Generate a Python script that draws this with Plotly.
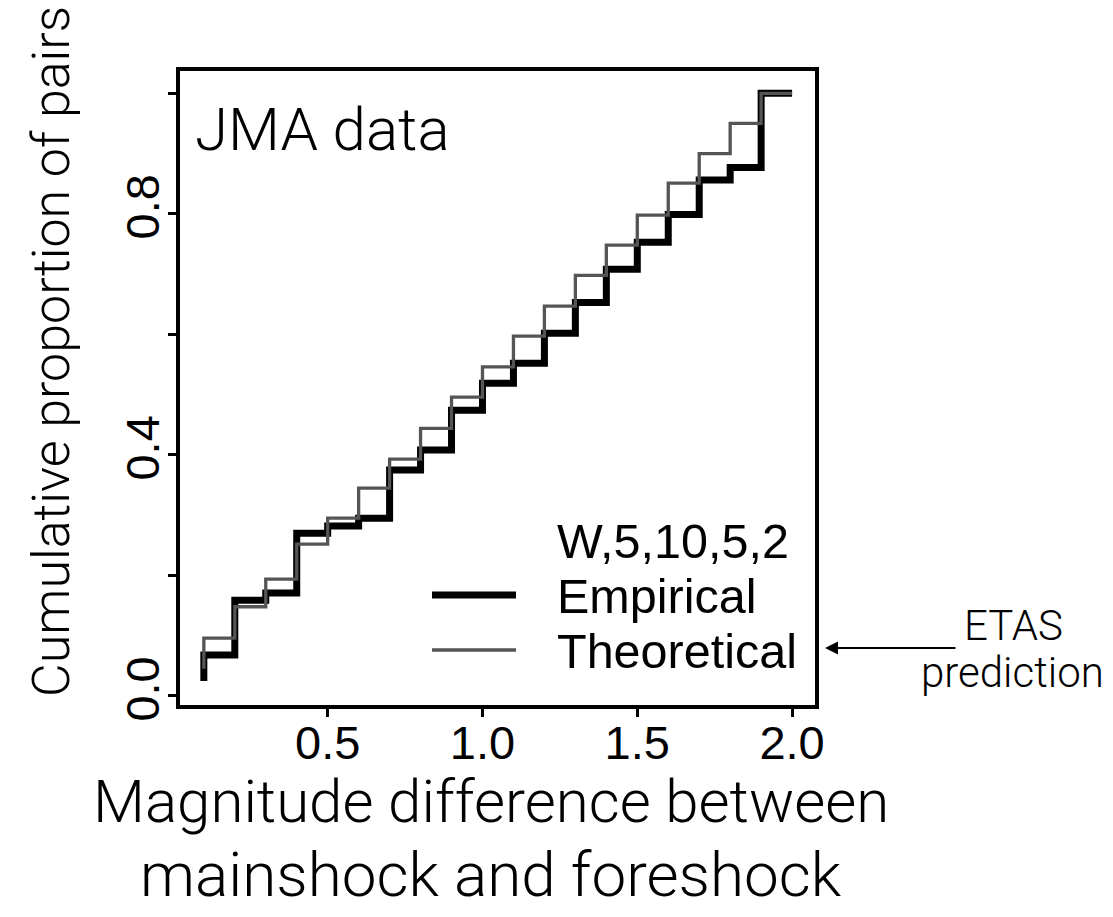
import plotly.graph_objects as go

# ---- data ----
step_x = [0.1, 0.2, 0.3, 0.4, 0.5, 0.6, 0.7, 0.8, 0.9, 1.0,
          1.1, 1.2, 1.3, 1.4, 1.5, 1.6, 1.7, 1.8, 1.9]
x_end = 2.0
empirical = [0.068, 0.159, 0.171, 0.270, 0.282, 0.295, 0.375, 0.408, 0.474, 0.519,
             0.552, 0.602, 0.653, 0.708, 0.753, 0.799, 0.856, 0.877, 1.0]
empirical_start = 0.025
theoretical = [0.096, 0.148, 0.194, 0.252, 0.295, 0.345, 0.393, 0.444, 0.496, 0.546,
               0.597, 0.647, 0.698, 0.748, 0.798, 0.851, 0.900, 0.950, 1.0]
theoretical_start = 0.045

x_ticks = [0.5, 1.0, 1.5, 2.0]
x_ticktext = ["0.5", "1.0", "1.5", "2.0"]
y_ticks = [0.0, 0.2, 0.4, 0.6, 0.8, 1.0]
y_ticktext = ["0.0", "", "0.4", "", "0.8", ""]

legend_title = "W,5,10,5,2"
legend_labels = ["Empirical", "Theoretical"]

# ---- layout constants ----
W, H = 1113, 917
L, R, T, B = 180, 815, 71, 705   # plot frame in pixels
pw, ph = R - L, B - T

def px2paper_x(px):
    return (px - L) / pw

def px2paper_y(py):
    return (B - py) / ph

LABEL_FONT = "Liberation Sans, Arial, Helvetica, sans-serif"
LIGHT_FONT = "Roboto, Lato, Open Sans, sans-serif"

def step_path(start, vals):
    xs = [step_x[0]] + step_x + [x_end]
    ys = [start] + vals + [vals[-1]]
    return xs, ys

fig = go.Figure()
ex, ey = step_path(empirical_start, empirical)
tx, ty = step_path(theoretical_start, theoretical)
fig.add_trace(go.Scatter(x=ex, y=ey, mode="lines", line_shape="hv",
                         line=dict(color="#000000", width=7), name=legend_labels[0],
                         showlegend=False))
fig.add_trace(go.Scatter(x=tx, y=ty, mode="lines", line_shape="hv",
                         line=dict(color="#555555", width=3.3), name=legend_labels[1],
                         showlegend=False))

fig.update_layout(
    width=W, height=H,
    margin=dict(l=L, r=W - R, t=T, b=H - B, pad=0),
    paper_bgcolor="white", plot_bgcolor="white",
    showlegend=False,
    xaxis=dict(range=[0.023, 2.074], tickvals=x_ticks, ticktext=x_ticktext,
               showgrid=False, zeroline=False, showline=True, mirror=True,
               linecolor="black", linewidth=3.5, ticks="outside", ticklen=8,
               tickwidth=3, tickcolor="black",
               tickfont=dict(family=LABEL_FONT, size=47, color="black"),
               ticklabelstandoff=-14),
    yaxis=dict(range=[-0.015, 1.037], tickvals=y_ticks, ticktext=y_ticktext,
               showgrid=False, zeroline=False, showline=True, mirror=True,
               linecolor="black", linewidth=3.5, ticks="outside", ticklen=8,
               tickwidth=3, tickcolor="black", tickangle=-90,
               tickfont=dict(family=LABEL_FONT, size=47, color="black"),
               ticklabelstandoff=-10),
)

# legend (drawn manually to match the R-style legend)
shapes = [
    dict(type="line", xref="paper", yref="paper",
         x0=px2paper_x(432), x1=px2paper_x(516), y0=px2paper_y(595), y1=px2paper_y(595),
         line=dict(color="black", width=7)),
    dict(type="line", xref="paper", yref="paper",
         x0=px2paper_x(432), x1=px2paper_x(516), y0=px2paper_y(650), y1=px2paper_y(650),
         line=dict(color="#555555", width=3.3)),
]
fig.update_layout(shapes=shapes)

ann = []
for txt, py in [(legend_title, 541), (legend_labels[0], 596), (legend_labels[1], 651)]:
    ann.append(dict(text=txt, xref="paper", yref="paper", x=px2paper_x(555), y=px2paper_y(py),
                    xanchor="left", yanchor="middle", showarrow=False,
                    font=dict(family=LABEL_FONT, size=48.5, color="black")))

# panel label
ann.append(dict(text="JMA data", xref="paper", yref="paper", x=px2paper_x(193), y=px2paper_y(129),
                xanchor="left", yanchor="middle", showarrow=False,
                font=dict(family=LIGHT_FONT, size=60, color="black", weight=300)))

# axis titles
ann.append(dict(text="Cumulative proportion of pairs", xref="paper", yref="paper",
                x=px2paper_x(51), y=px2paper_y(352), xanchor="center", yanchor="middle",
                textangle=-90, showarrow=False,
                font=dict(family=LIGHT_FONT, size=52, color="black", weight=300)))
ann.append(dict(text="Magnitude difference between",
                xref="paper", yref="paper", x=px2paper_x(491), y=px2paper_y(801),
                xanchor="center", yanchor="middle", showarrow=False,
                font=dict(family=LIGHT_FONT, size=60, color="black", weight=300)))
ann.append(dict(text="mainshock and foreshock",
                xref="paper", yref="paper", x=px2paper_x(491), y=px2paper_y(874),
                xanchor="center", yanchor="middle", showarrow=False,
                font=dict(family=LIGHT_FONT, size=62, color="black", weight=300)))

# ETAS prediction note with arrow
ann.append(dict(text="ETAS", xref="paper", yref="paper", x=px2paper_x(1013), y=px2paper_y(625),
                xanchor="center", yanchor="middle", showarrow=False,
                font=dict(family=LIGHT_FONT, size=42, color="black", weight=300)))
ann.append(dict(text="prediction", xref="paper", yref="paper", x=px2paper_x(1012), y=px2paper_y(672),
                xanchor="center", yanchor="middle", showarrow=False,
                font=dict(family=LIGHT_FONT, size=42, color="black", weight=300)))
ann.append(dict(text="", xref="paper", yref="paper", x=px2paper_x(825), y=px2paper_y(648),
                ax=132, ay=0, axref="pixel", ayref="pixel", showarrow=True,
                arrowhead=2, arrowsize=1.3, arrowwidth=2, arrowcolor="black"))
fig.update_layout(annotations=ann)

fig.write_html("out.html")
